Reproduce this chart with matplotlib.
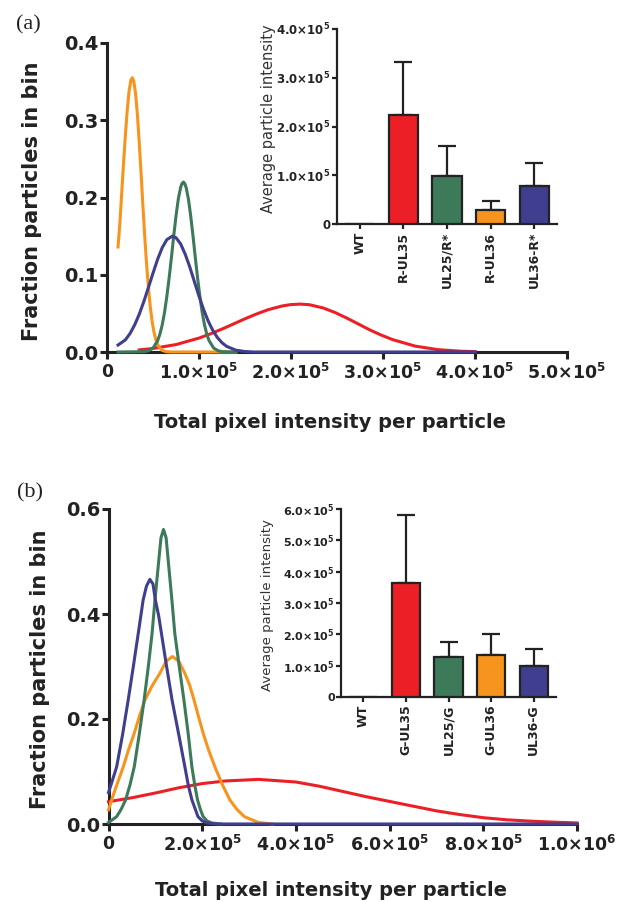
import numpy as np
import matplotlib
matplotlib.use('Agg')
import matplotlib.pyplot as plt
from matplotlib.ticker import FixedLocator, FuncFormatter

plt.rcParams['font.family'] = ['DejaVu Sans']
plt.rcParams['mathtext.default'] = 'bf'

# colours
RED = '#ec1f26'
GREEN = '#3c7a5a'
ORANGE = '#f7941d'
BLUE = '#3f3e8f'
AXC = '#222222'

# ---------------- panel (a) distributions ----------------
a_orange_x = [1.2e4, 1.4e4, 1.6e4, 1.8e4, 2.0e4, 2.2e4, 2.4e4, 2.6e4, 2.75e4, 2.9e4, 3.1e4, 3.3e4, 3.5e4, 3.7e4,
              3.9e4, 4.1e4, 4.3e4, 4.5e4, 4.7e4, 4.9e4, 5.1e4, 5.3e4, 5.5e4, 5.75e4, 6.0e4, 6.5e4, 7.0e4, 1.4e5]
a_orange_y = [0.136, 0.167, 0.206, 0.245, 0.281, 0.313, 0.338, 0.352, 0.355, 0.351, 0.335, 0.308, 0.272, 0.232,
              0.190, 0.150, 0.114, 0.084, 0.059, 0.040, 0.026, 0.0165, 0.010, 0.005, 0.002, 0.0003, 0.0, 0.0]

a_green_x = [1.2e4, 4.0e4, 4.5e4, 5.0e4, 5.5e4, 5.75e4, 6.0e4, 6.25e4, 6.5e4, 6.75e4, 7.0e4, 7.25e4, 7.5e4, 7.75e4,
             8.0e4, 8.15e4, 8.3e4, 8.45e4, 8.6e4, 8.85e4, 9.1e4, 9.35e4, 9.6e4, 9.85e4, 1.01e5, 1.035e5, 1.06e5,
             1.085e5, 1.11e5, 1.16e5, 1.21e5, 1.26e5, 1.4e5]
a_green_y = [0.0, 0.0004, 0.0015, 0.005, 0.0145, 0.023, 0.035, 0.051, 0.0715, 0.0955, 0.122, 0.150, 0.176, 0.198,
             0.213, 0.218, 0.220, 0.218, 0.213, 0.198, 0.176, 0.150, 0.122, 0.0955, 0.0715, 0.051, 0.035,
             0.023, 0.0145, 0.005, 0.0015, 0.0004, 0.0]

a_blue_x = [1.2e4, 2.0e4, 2.5e4, 3.0e4, 3.5e4, 4.0e4, 4.5e4, 5.0e4, 5.5e4, 6.0e4, 6.5e4, 7.1e4, 7.5e4, 8.0e4,
            8.5e4, 9.0e4, 9.5e4, 1.0e5, 1.05e5, 1.1e5, 1.15e5, 1.2e5, 1.25e5, 1.3e5, 1.4e5, 1.5e5, 1.6e5, 4.0e5]
a_blue_y = [0.009, 0.0157, 0.0239, 0.0349, 0.0487, 0.0652, 0.0834, 0.102, 0.120, 0.135, 0.1454, 0.150, 0.148, 0.140,
            0.1266, 0.110, 0.091, 0.0723, 0.055, 0.040, 0.028, 0.0187, 0.012, 0.0073, 0.0024, 0.0006, 0.0, 0.0]

a_red_x = [3.5e4, 5.0e4, 7.5e4, 1.0e5, 1.125e5, 1.25e5, 1.375e5, 1.5e5, 1.625e5, 1.75e5, 1.9e5, 2.0e5, 2.1e5,
           2.2e5, 2.35e5, 2.475e5, 2.6e5, 2.725e5, 2.85e5, 2.975e5, 3.1e5, 3.35e5, 3.6e5, 3.85e5, 4.0e5]
a_red_y = [0.0027, 0.0046, 0.0096, 0.018, 0.0235, 0.0297, 0.0363, 0.043, 0.0492, 0.0547, 0.0595, 0.0614, 0.062,
           0.0612, 0.057, 0.0513, 0.0443, 0.0367, 0.029, 0.0222, 0.0162, 0.0076, 0.003, 0.001, 0.0005]

# ---------------- panel (b) distributions ----------------
b_green_x = [0, 1.74e4, 2.7e4, 3.66e4, 4.6e4, 5.5e4, 6.6e4, 7.6e4, 8.5e4, 9.3e4, 9.9e4, 1.06e5, 1.12e5, 1.174e5,
             1.23e5, 1.287e5, 1.355e5, 1.415e5, 1.51e5, 1.61e5, 1.70e5, 1.78e5, 1.84e5, 1.9e5, 1.96e5, 2.02e5,
             2.1e5, 2.2e5, 2.4e5]
b_green_y = [0.003, 0.014, 0.028, 0.046, 0.075, 0.109, 0.173, 0.236, 0.30, 0.363, 0.425, 0.49, 0.545, 0.561,
             0.545, 0.49, 0.425, 0.363, 0.30, 0.236, 0.173, 0.109, 0.075, 0.046, 0.028, 0.014,
             0.006, 0.002, 0.0]

b_blue_x = [0, 8e3, 1.74e4, 3.0e4, 4.2e4, 5.3e4, 6.35e4, 7.4e4, 8.1e4, 8.83e4, 9.5e4, 1.0e5, 1.07e5, 1.13e5,
            1.24e5, 1.357e5, 1.5e5, 1.63e5, 1.7e5, 1.78e5, 1.91e5, 2.0e5, 2.1e5, 2.3e5, 1.0e6]
b_blue_y = [0.06, 0.082, 0.109, 0.17, 0.236, 0.30, 0.363, 0.427, 0.453, 0.466, 0.457, 0.427, 0.397, 0.363,
            0.30, 0.236, 0.17, 0.109, 0.075, 0.046, 0.014, 0.006, 0.002, 0.0, 0.0]

b_orange_x = [0, 1.2e4, 3.15e4, 4.3e4, 5.5e4, 6.6e4, 7.77e4, 9.3e4, 1.096e5, 1.23e5, 1.366e5, 1.5e5, 1.63e5,
              1.73e5, 1.826e5, 1.92e5, 2.02e5, 2.14e5, 2.27e5, 2.43e5, 2.59e5, 2.74e5, 2.9e5, 3.2e5, 3.5e5]
b_orange_y = [0.027, 0.06, 0.109, 0.142, 0.173, 0.205, 0.236, 0.263, 0.287, 0.31, 0.319, 0.31, 0.287,
              0.265, 0.236, 0.205, 0.173, 0.14, 0.109, 0.075, 0.046, 0.028, 0.014, 0.003, 0.0]

b_red_x = [0, 5e4, 1.0e5, 1.5e5, 2.0e5, 2.5e5, 3.2e5, 4.0e5, 4.5e5, 5.0e5, 5.5e5, 6.0e5, 6.5e5, 7.0e5, 7.5e5,
           8.0e5, 8.5e5, 9.0e5, 9.5e5, 1.0e6]
b_red_y = [0.0425, 0.05, 0.059, 0.069, 0.077, 0.082, 0.085, 0.080, 0.072, 0.062, 0.052, 0.043, 0.034, 0.025, 0.018,
           0.012, 0.008, 0.0055, 0.0035, 0.002]

# ---------------- inset bars ----------------
a_bar_labels = ['WT', 'R-UL35', 'UL25/R*', 'R-UL36', 'UL36-R*']
a_bar_vals = [0, 2.24e5, 0.98e5, 0.29e5, 0.78e5]
a_bar_err = [0, 1.08e5, 0.62e5, 0.18e5, 0.47e5]

b_bar_labels = ['WT', 'G-UL35', 'UL25/G', 'G-UL36', 'UL36-G']
b_bar_vals = [0, 3.64e5, 1.28e5, 1.34e5, 0.99e5]
b_bar_err = [0, 2.16e5, 0.48e5, 0.66e5, 0.54e5]

bar_colors = ['white', RED, GREEN, ORANGE, BLUE]


def sci(v, pos=None):
    if v == 0:
        return '0'
    e = int(np.floor(np.log10(v) + 1e-9))
    m = v / 10 ** e
    return '%.1f×10$^{%d}$' % (m, e)


def style_main(ax):
    for s in ['top', 'right']:
        ax.spines[s].set_visible(False)
    for s in ['left', 'bottom']:
        ax.spines[s].set_linewidth(2.2)
        ax.spines[s].set_color(AXC)
    ax.set_facecolor('none')
    ax.tick_params(axis='both', length=5, width=2.2, color=AXC, labelcolor=AXC)
    ax.tick_params(axis='y', pad=1, labelsize=14)
    ax.tick_params(axis='x', pad=3, labelsize=12.5)
    for t in ax.get_xticklabels() + ax.get_yticklabels():
        t.set_fontweight('bold')


def draw_main(ax, curves, xmax, xstep, ymax, ystep):
    for xs, ys, c in curves:
        ax.plot(xs, ys, color=c, lw=2.2, solid_joinstyle='round', clip_on=False, zorder=3)
    ax.set_xlim(0, xmax)
    ax.set_ylim(0, ymax)
    ax.xaxis.set_major_locator(FixedLocator(np.arange(0, xmax + 1, xstep)))
    ax.yaxis.set_major_locator(FixedLocator(np.round(np.arange(0, ymax + 1e-9, ystep), 2)))
    ax.xaxis.set_major_formatter(FuncFormatter(sci))
    ax.yaxis.set_major_formatter(FuncFormatter(lambda v, p: '%.1f' % v))
    style_main(ax)
    ax.set_xlabel('Total pixel intensity per particle', fontsize=14, fontweight='bold', color=AXC)
    ax.set_ylabel('Fraction particles in bin', fontsize=15, fontweight='bold', color=AXC)


def draw_inset(ax, labels, vals, errs, ymax, ystep, lab_size, tick_size):
    x = np.arange(len(labels))
    ax.bar(x, vals, width=0.67, color=bar_colors, edgecolor=AXC, linewidth=1.6, zorder=3)
    ax.errorbar(x[1:], vals[1:], yerr=[np.zeros(len(x) - 1), errs[1:]], fmt='none',
                ecolor=AXC, elinewidth=1.6, capsize=6.5, capthick=1.6, zorder=2)
    ax.set_xlim(-0.52, 4.52)
    ax.set_ylim(0, ymax)
    ax.set_xticks(x)
    ax.set_xticklabels(labels, rotation=90, fontsize=9, fontweight='bold', color=AXC)
    ax.yaxis.set_major_locator(FixedLocator(np.arange(0, ymax + 1, ystep)))
    ax.yaxis.set_major_formatter(FuncFormatter(sci))
    for s in ['top', 'right']:
        ax.spines[s].set_visible(False)
    for s in ['left', 'bottom']:
        ax.spines[s].set_linewidth(1.6)
        ax.spines[s].set_color(AXC)
    ax.set_facecolor('none')
    ax.tick_params(axis='both', length=3.5, width=1.6, color=AXC, labelcolor=AXC)
    ax.tick_params(axis='y', pad=1, labelsize=tick_size)
    ax.tick_params(axis='x', pad=2)
    for t in ax.get_yticklabels():
        t.set_fontweight('bold')
    ax.set_ylabel('Average particle intensity', fontsize=lab_size, color='#333333')


fig = plt.figure(figsize=(6.28, 9.02), dpi=100)
W, H = 628.0, 902.0

def box(l, r, top, bot):
    return [l / W, 1 - bot / H, (r - l) / W, (bot - top) / H]

# panel (a)
ax_a = fig.add_axes(box(107, 567, 43, 352))
draw_main(ax_a, [(a_red_x, a_red_y, RED), (a_orange_x, a_orange_y, ORANGE),
                 (a_green_x, a_green_y, GREEN), (a_blue_x, a_blue_y, BLUE)],
          5e5, 1e5, 0.4, 0.1)
ax_a.xaxis.set_label_coords(0.484, -0.197)
ax_a.yaxis.set_label_coords(-0.141, 0.487)

ins_a = fig.add_axes(box(337, 557, 29, 224))
draw_inset(ins_a, a_bar_labels, a_bar_vals, a_bar_err, 4e5, 1e5, 10.5, 8.5)
ins_a.yaxis.set_label_coords(-0.277, 0.54)

# panel (b)
ax_b = fig.add_axes(box(108.5, 577, 509, 824))
draw_main(ax_b, [(b_red_x, b_red_y, RED), (b_orange_x, b_orange_y, ORANGE),
                 (b_green_x, b_green_y, GREEN), (b_blue_x, b_blue_y, BLUE)],
          1e6, 2e5, 0.6, 0.2)
ax_b.xaxis.set_label_coords(0.474, -0.181)
ax_b.yaxis.set_label_coords(-0.125, 0.49)

ins_b = fig.add_axes(box(341, 556, 509, 697))
draw_inset(ins_b, b_bar_labels, b_bar_vals, b_bar_err, 6e5, 1e5, 9.5, 8)
ins_b.yaxis.set_label_coords(-0.312, 0.49)

fig.text(28 / W, 1 - 25 / H, '(a)', family='Liberation Serif', fontsize=16, ha='center', va='center', color=AXC)
fig.text(30 / W, 1 - 493 / H, '(b)', family='Liberation Serif', fontsize=16, ha='center', va='center', color=AXC)

fig.savefig('out.png', dpi=100)
